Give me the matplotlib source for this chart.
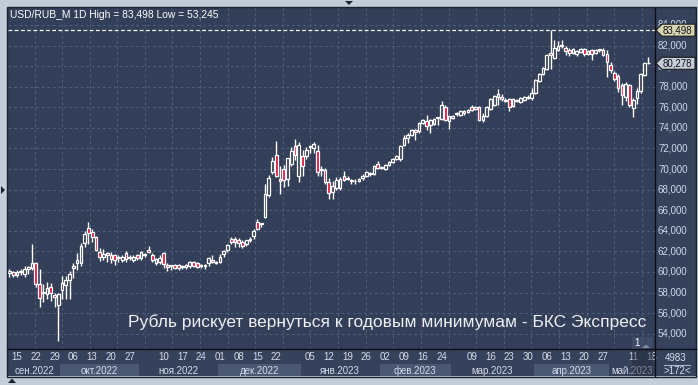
import matplotlib
matplotlib.use('Agg')
import matplotlib.pyplot as plt
from matplotlib.patches import Rectangle, Polygon

plt.rcParams['font.family'] = ['Liberation Sans', 'DejaVu Sans']

# ---------------- data ----------------
opens = [59.9, 59.95, 59.75, 60.0, 59.8, 60.3, 60.4, 60.9, 58.8, 58.1,
         57.9, 58.5, 57.8, 56.8, 58.2, 58.7, 59.2, 60.4, 60.9, 60.9,
         62.8, 64.3, 63.9, 63.4, 61.9, 61.5, 61.8, 61.6, 61.6, 61.4,
         61.2, 61.8, 61.4, 61.2, 61.6, 61.4, 61.7, 62.1, 61.6, 60.9,
         61.0, 61.8, 60.7, 60.55, 60.7, 60.7, 60.5, 60.5, 60.6, 61.0,
         60.9, 60.55, 60.55, 60.9, 61.2, 60.9, 61.0, 61.7, 62.1, 63.2,
         63.2, 63.1, 62.9, 62.7, 63.15, 63.5, 64.9, 64.65, 65.3, 67.5,
         69.7, 71.35, 69.0, 70.0, 69.0, 70.5, 72.2, 69.3, 71.3, 71.3,
         72.2, 72.0, 71.8, 70.0, 69.9, 68.7, 67.8, 68.2, 68.2, 69.3,
         69.1, 68.9, 68.85, 68.85, 69.1, 69.3, 69.5, 69.5, 70.5, 70.2,
         70.0, 70.4, 70.7, 71.0, 70.95, 72.3, 73.0, 73.3, 73.8, 73.7,
         74.5, 74.7, 74.3, 74.4, 75.0, 74.9, 76.0, 74.7, 75.0, 75.35,
         75.3, 75.6, 75.5, 76.0, 75.8, 76.0, 74.8, 75.2, 75.8, 76.2,
         77.0, 77.0, 76.65, 76.8, 76.1, 76.65, 76.5, 76.7, 76.95, 76.9,
         77.4, 78.6, 79.2, 79.7, 81.3, 80.8, 81.6, 82.0, 81.8, 81.6,
         81.3, 81.2, 81.4, 81.7, 81.2, 81.6, 81.3, 81.55, 81.6, 81.15,
         80.1, 79.3, 79.0, 78.2, 77.0, 78.2, 75.9, 76.9, 77.6, 79.1,
         80.35]
highs = [60.3, 60.1, 60.2, 60.3, 60.6, 60.6, 62.7, 61.0, 60.3, 58.8,
         59.0, 58.9, 58.0, 58.0, 59.6, 59.6, 60.1, 60.9, 61.8, 62.8,
         64.0, 64.9, 64.2, 63.5, 62.3, 62.2, 61.9, 61.9, 61.7, 61.6,
         61.6, 62.0, 61.6, 61.6, 61.7, 62.0, 61.8, 62.5, 61.8, 61.4,
         61.6, 61.9, 60.9, 60.7, 60.8, 60.8, 60.7, 60.8, 61.1, 61.1,
         61.0, 60.8, 60.8, 61.5, 61.6, 61.1, 61.7, 62.1, 62.7, 63.4,
         63.4, 63.3, 63.1, 63.1, 63.4, 64.2, 65.1, 64.8, 68.5, 69.4,
         71.2, 72.7, 70.3, 70.4, 71.1, 72.1, 72.9, 72.6, 71.9, 72.1,
         72.3, 72.6, 72.3, 70.3, 70.1, 69.1, 68.8, 69.2, 69.2, 69.8,
         69.3, 69.0, 69.0, 69.1, 69.5, 69.8, 69.7, 70.4, 70.8, 70.3,
         70.5, 70.8, 71.1, 71.4, 72.3, 73.3, 73.5, 73.9, 73.9, 74.6,
         74.9, 75.3, 74.9, 75.0, 75.1, 76.6, 76.2, 75.2, 75.3, 75.5,
         75.7, 75.7, 75.8, 76.2, 76.1, 76.1, 75.4, 76.1, 76.9, 77.2,
         77.75, 77.3, 76.9, 76.9, 76.9, 76.8, 77.0, 77.1, 77.2, 77.9,
         78.8, 79.3, 79.9, 81.2, 83.498, 82.5, 82.4, 82.5, 82.0, 81.8,
         81.8, 81.6, 81.8, 81.8, 81.6, 81.7, 81.7, 81.7, 81.8, 81.6,
         80.4, 79.5, 79.2, 78.4, 78.5, 78.3, 76.9, 77.9, 79.3, 80.4,
         80.9]
lows = [59.5, 59.5, 59.5, 59.7, 59.5, 59.8, 60.2, 58.5, 56.6, 57.1,
        57.4, 57.2, 56.6, 53.245, 57.4, 57.4, 57.4, 59.4, 60.2, 60.6,
        62.4, 62.7, 62.9, 62.0, 61.1, 61.2, 61.0, 60.9, 60.7, 61.0,
        61.0, 61.0, 61.2, 61.0, 61.2, 61.2, 61.5, 61.8, 61.0, 60.7,
        60.8, 60.4, 60.1, 60.2, 60.3, 60.2, 60.3, 60.3, 60.4, 60.5,
        60.4, 60.4, 60.3, 60.6, 60.9, 60.8, 60.9, 61.5, 61.9, 62.7,
        62.4, 62.4, 62.3, 62.5, 62.9, 63.2, 64.1, 64.4, 65.2, 67.3,
        69.5, 69.2, 67.6, 68.3, 68.4, 70.3, 70.9, 68.7, 69.3, 71.0,
        71.6, 71.6, 69.3, 69.3, 68.5, 67.1, 67.1, 68.0, 68.0, 68.8,
        68.9, 68.5, 68.5, 68.7, 68.9, 69.2, 69.3, 69.4, 70.0, 70.0,
        69.9, 70.3, 70.6, 70.9, 70.8, 72.2, 72.5, 73.2, 72.8, 73.5,
        74.4, 73.8, 73.5, 74.3, 74.3, 74.8, 74.7, 73.9, 74.9, 75.2,
        75.2, 75.3, 75.4, 75.6, 75.7, 74.7, 74.6, 75.1, 75.7, 76.1,
        76.2, 76.6, 76.5, 75.6, 76.0, 76.5, 76.4, 76.6, 76.8, 76.7,
        77.3, 78.5, 79.1, 79.6, 79.7, 80.7, 81.5, 81.8, 81.1, 81.0,
        81.2, 81.0, 81.3, 81.0, 81.1, 80.6, 81.2, 81.4, 81.0, 78.9,
        79.3, 78.6, 77.5, 76.2, 76.6, 76.0, 75.1, 76.3, 77.4, 79.0,
        80.2]
closes = [60.05, 59.75, 60.0, 60.1, 60.3, 60.45, 60.9, 58.8, 57.5, 57.95,
          58.45, 58.0, 57.6, 57.9, 58.9, 59.2, 59.8, 60.6, 61.2, 62.5,
          63.7, 63.8, 63.4, 62.1, 61.5, 61.7, 61.6, 61.3, 61.2, 61.5,
          61.5, 61.3, 61.5, 61.5, 61.4, 61.9, 61.6, 61.9, 61.2, 61.3,
          61.4, 60.8, 60.5, 60.65, 60.4, 60.4, 60.6, 60.7, 61.0, 60.6,
          60.5, 60.65, 60.65, 61.4, 61.0, 61.0, 61.5, 62.0, 62.6, 62.9,
          62.9, 62.8, 62.5, 63.1, 63.25, 64.0, 64.2, 64.75, 67.6, 69.1,
          70.8, 69.3, 68.8, 68.9, 71.1, 71.8, 71.4, 72.3, 70.3, 71.9,
          72.1, 72.4, 69.7, 69.9, 68.7, 67.7, 68.4, 68.9, 69.0, 68.9,
          69.0, 68.85, 68.8, 69.0, 69.3, 69.7, 69.6, 70.3, 70.1, 70.1,
          70.4, 70.7, 71.0, 71.3, 72.2, 73.0, 73.3, 73.8, 73.6, 74.5,
          74.8, 74.2, 74.8, 74.9, 75.1, 76.2, 74.8, 75.2, 75.2, 75.45,
          75.6, 75.4, 75.7, 75.7, 76.0, 74.8, 75.2, 76.0, 76.8, 77.1,
          77.3, 76.8, 76.75, 76.0, 76.8, 76.75, 76.9, 77.0, 77.05, 77.4,
          78.7, 79.2, 79.8, 81.1, 81.05, 81.8, 82.0, 82.05, 81.5, 81.25,
          81.7, 81.5, 81.7, 81.2, 81.5, 81.2, 81.6, 81.65, 81.1, 80.4,
          79.6, 78.8, 77.85, 77.2, 78.3, 76.2, 76.7, 77.6, 79.2, 80.3,
          80.278]

day_tick_pos = [2, 7, 12, 17, 22, 27, 32, 41, 46, 51, 56, 61, 66, 71, 80, 85,
                90, 95, 100, 105, 110, 115, 123, 128, 133, 138, 143, 148, 153,
                158, 166, 171]
day_tick_labels = ['15', '22', '29', '06', '13', '20', '27', '10', '17', '24',
                   '01', '08', '15', '22', '05', '12', '19', '26', '02', '09',
                   '16', '24', '09', '16', '23', '30', '06', '13', '20', '27',
                   '11', '18']
month_starts = [0, 14, 35, 56, 78, 99, 118, 140, 160]
month_labels = ['сен.2022', 'окт.2022', 'ноя.2022', 'дек.2022', 'янв.2023',
                'фев.2023', 'мар.2023', 'апр.2023', 'май.2023']
y_ticks = list(range(54, 85, 2))
title = 'USD/RUB_M 1D High = 83,498 Low = 53,245'
caption = 'Рубль рискует вернуться к годовым минимумам - БКС Экспресс'
high_val = 83.498
bar_count_text = '4983'
visible_text = '>172<'

# ---------------- layout ----------------
W, H = 698, 385
PL, PR, PT, PB = 8, 655, 8, 349
BG = '#333e58'
PANEL = '#36425c'
BAND = '#4a5874'
GRID = '#505d79'
RED = '#dc143c'
TXT = '#d4dcea'

fig = plt.figure(figsize=(W / 100, H / 100), dpi=100)
fig.patch.set_facecolor('#c2cdd9')

ax = fig.add_axes([PL / W, 1 - PB / H, (PR - PL) / W, (PB - PT) / H])
ax.set_facecolor(BG)
ax.set_zorder(1)
n = len(closes)
xs = list(range(n))
ax.set_xlim(-0.397, 171.81)
ax.set_ylim(52.513, 85.652)
for s in ax.spines.values():
    s.set_visible(False)
ax.set_xticks([])
ax.set_yticks([])

# grid
for v in y_ticks:
    ax.axhline(v, color=GRID, lw=0.8, ls=(0, (2.5, 2.5)), zorder=0)

ov = fig.add_axes([0, 0, 1, 1])
ov.set_xlim(0, W)
ov.set_ylim(H, 0)
ov.axis('off')
ov.patch.set_alpha(0)
ov.set_zorder(2)


def to_px(x, y):
    return ov.transData.inverted().transform(ax.transData.transform((x, y)))


# vertical grid (approx every ~27.6 px)
gx = 34.5
while gx < PR:
    xd = ax.transData.inverted().transform(ov.transData.transform((gx, 0)))[0]
    ax.axvline(xd, color=GRID, lw=0.8, ls=(0, (2.5, 2.5)), zorder=0)
    gx += 27.6

# high dashed line
ax.axhline(high_val, color='white', lw=0.9, ls=(0, (3, 2)), zorder=1)

# candles
ax.vlines(xs, lows, highs, color='white', lw=1.0, zorder=2)
for i in range(n):
    o, c = opens[i], closes[i]
    up = c >= o
    ax.bar(i, max(abs(c - o), 0.03), bottom=min(o, c), width=0.72,
           color=BG if up else RED, edgecolor='white', linewidth=0.9,
           zorder=3)

# ---------------- decorations ----------------
ov.add_patch(Rectangle((7, 7), 689, 370, fill=False, ec='#1c2232', lw=1))
ov.add_patch(Rectangle((PR, PT), 696 - PR, 376 - PT, fc=PANEL, ec='none', zorder=0))
ov.add_patch(Rectangle((PL, PB), PR - PL, 376 - PB, fc=PANEL, ec='none', zorder=0))
for k, st in enumerate(month_starts):
    x0 = PL if k == 0 else to_px(st - 0.5, 60)[0]
    x1 = PR if k == len(month_starts) - 1 else to_px(month_starts[k + 1] - 0.5, 60)[0]
    if k % 2 == 1:
        ov.add_patch(Rectangle((x0, 364), x1 - x0, 12, fc=BAND, ec='none', zorder=0.5))
    ov.text((x0 + x1) / 2, 370.5, month_labels[k], ha='center', va='center',
            fontsize=7, color=TXT, zorder=3)
for p, lab in zip(day_tick_pos, day_tick_labels):
    px = to_px(p, 60)[0]
    ov.text(px, 357, lab, ha='center', va='center', fontsize=7, color=TXT, zorder=3)

ov.plot([PR, PR], [PT, 376], color='#0c0f16', lw=1, zorder=4)
ov.plot([PL, 696], [PB, PB], color='#0c0f16', lw=1, zorder=4)

for v in y_ticks:
    py = to_px(0, v)[1]
    ov.text(658, py, f'{v:.3f}'.replace('.', ','), ha='left', va='center',
            fontsize=7, color='#c9d8ee', zorder=3)


def price_box(val, fc):
    py = to_px(0, val)[1]
    pts = [(656, py), (662, py - 6), (695, py - 6), (695, py + 6), (662, py + 6)]
    ov.add_patch(Polygon(pts, closed=True, fc=fc, ec='#1a1a1a', lw=0.8, zorder=5))
    ov.text(663, py + 0.5, f'{val:.3f}'.replace('.', ','), ha='left', va='center',
            fontsize=7, color='#111111', zorder=6)


price_box(high_val, '#d6d4b2')
price_box(closes[-1], '#c6cedb')

ov.text(676, 358, bar_count_text, ha='center', va='center', fontsize=7, color=TXT, zorder=3)
ov.plot([664, 690], [364.5, 364.5], color='#aab4c4', lw=0.8, zorder=3)
ov.text(677, 371, visible_text, ha='center', va='center', fontsize=7, color=TXT, zorder=3)

ov.add_patch(Rectangle((632, 337), 21, 12, fc='#43506c', ec='none', alpha=0.8, zorder=1))
ov.add_patch(Rectangle((632, 349), 21, 27, fc='#1e2638', ec='none', alpha=0.45, zorder=3.5))
ov.text(637, 343, '1', ha='center', va='center', fontsize=7, color='white', zorder=4)
ov.add_patch(Polygon([(642, 348), (646, 344.5), (650, 348)], fc='#7f8aa0', ec='none', zorder=4))

ov.text(10, 14.5, title, ha='left', va='center', fontsize=7.4, color='white', zorder=6)
ov.text(128, 322, caption, ha='left', va='center', fontsize=12.5, color='#eef0f4',
        zorder=6)

ov.add_patch(Polygon([(345, 1), (353, 1), (349, 5)], fc='#1b2230', ec='none', zorder=6))
ov.add_patch(Polygon([(1, 186), (1, 194), (5, 190)], fc='#1b2230', ec='none', zorder=6))
ov.add_patch(Polygon([(8, 383), (16, 383), (12, 378.5)], fc='#1b2230', ec='none', zorder=6))

fig.savefig('out.png', dpi=100, facecolor=fig.get_facecolor())
